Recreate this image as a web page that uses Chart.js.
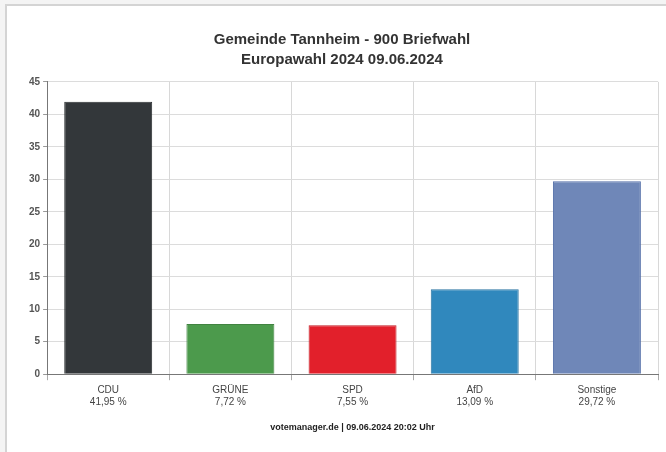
<!DOCTYPE html>
<html lang="de">
<head>
<meta charset="UTF-8">
<title>Europawahl 2024 Tannheim</title>
<script src="https://cdn.jsdelivr.net/npm/chart.js"></script>
<style>
  html, body { margin: 0; padding: 0; background: #f4f4f4; }
  #wrap { position: relative; width: 666px; height: 452px; }
  #frame { position: absolute; left: 5px; top: 4px; right: 0; bottom: 0;
           background: #fff; border-left: 2px solid #d4d4d4; border-top: 2px solid #d4d4d4; }
  #myChart { position: absolute; left: 0; top: 0; }
</style>
</head>
<body>
<div id="wrap">
  <div id="frame"></div>
  <canvas id="myChart" width="666" height="452"></canvas>
</div>
<script>
// values
const parties = ["CDU", "GRÜNE", "SPD", "AfD", "Sonstige"];
const shares = [41.95, 7.72, 7.55, 13.09, 29.72];
const shareLabels = ["41,95 %", "7,72 %", "7,55 %", "13,09 %", "29,72 %"];
const barColors = ["#33373a", "#4c9a4c", "#e2202b", "#3088bd", "#6f87b8"];
const titleLines = ["Gemeinde Tannheim - 900 Briefwahl", "Europawahl 2024 09.06.2024"];
const footerText = "votemanager.de | 09.06.2024 20:02 Uhr";

Chart.defaults.font.family = "'Liberation Sans', Arial, sans-serif";
Chart.defaults.animation = false;

function barFill(ctx) {
  const chart = ctx.chart;
  const c = barColors[ctx.dataIndex];
  const el = chart.getDatasetMeta(0).data[ctx.dataIndex];
  if (!el || el.width === undefined || isNaN(el.x)) return c;
  const g = chart.ctx.createLinearGradient(el.x - el.width / 2, 0, el.x + el.width / 2, 0);
  g.addColorStop(0, c);
  g.addColorStop(0.5, Chart.helpers.color(c).lighten(0.08).rgbString());
  g.addColorStop(1, c);
  return g;
}

new Chart(document.getElementById('myChart'), {
  type: 'bar',
  data: {
    labels: parties.map((p, i) => [p, shareLabels[i]]),
    datasets: [{
      data: shares,
      backgroundColor: barFill,
      borderColor: barColors.map(c => Chart.helpers.color(c).darken(0.15).rgbString()),
      borderWidth: 1,
      barPercentage: 0.72,
      categoryPercentage: 1
    }]
  },
  options: {
    responsive: false,
    devicePixelRatio: 1,
    layout: { padding: { left: 26, right: 8, top: 6, bottom: 15 } },
    plugins: {
      legend: { display: false },
      tooltip: { enabled: false },
      title: {
        display: true,
        text: titleLines,
        color: '#333',
        font: { size: 15, weight: 'bold', lineHeight: 1.33 },
        padding: { top: 24, bottom: 12 }
      }
    },
    scales: {
      x: {
        grid: { color: '#d8d8d8', offset: true, tickLength: 6, tickColor: '#aaa' },
        border: { color: '#777' },
        ticks: { color: '#444', font: { size: 10 }, padding: 4 },
        title: {
          display: true,
          text: footerText,
          color: '#222',
          font: { size: 9, weight: 'bold' },
          padding: { top: 10 }
        }
      },
      y: {
        min: 0,
        max: 45,
        grid: { color: '#dcdcdc', tickLength: 4, tickColor: '#999' },
        border: { color: '#777' },
        ticks: { stepSize: 5, color: '#555', font: { size: 10, weight: 'bold' }, padding: 3 }
      }
    }
  }
});
</script>
</body>
</html>
